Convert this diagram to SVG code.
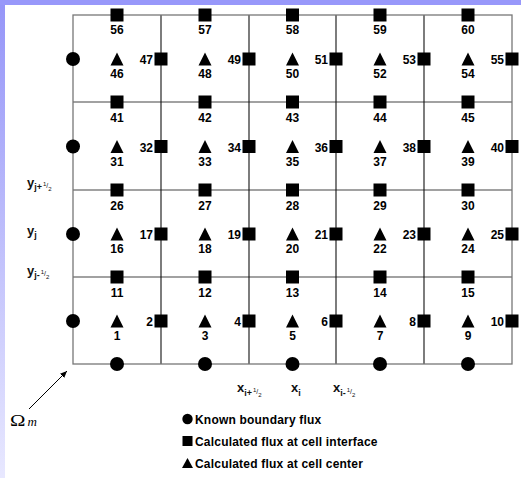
<svg xmlns="http://www.w3.org/2000/svg" xmlns:xlink="http://www.w3.org/1999/xlink" width="521" height="478" viewBox="0 0 521 478">
<style>
.lbl{font-family:"Liberation Sans",Arial,sans-serif;font-weight:bold;font-size:12px;fill:#000}
.mid{text-anchor:middle}
.end{text-anchor:end}
.ax{font-family:"Liberation Sans",Arial,sans-serif;font-weight:bold;font-size:13px;fill:#111}
.leg{font-family:"Liberation Sans",Arial,sans-serif;font-weight:bold;font-size:12px;fill:#000;letter-spacing:0.2px}
.hl{stroke:#444;stroke-width:1.1}
.vl{stroke:#111;stroke-width:1.1}
.bd{stroke:#777;stroke-width:1.3;fill:none}
</style>
<defs>
<linearGradient id="lg" x1="0" y1="0" x2="0" y2="1">
<stop offset="0" stop-color="#9595f8"/>
<stop offset="1" stop-color="#e8e8ff"/>
</linearGradient>
<rect id="sq" x="-6.5" y="-6.5" width="13" height="13" fill="#000"/>
<polygon id="tri" points="0,-6.5 6.5,6.5 -6.5,6.5" fill="#000"/>
<circle id="ci" r="7" fill="#000"/>
<marker id="ah" markerWidth="8" markerHeight="8" refX="7" refY="4" orient="auto" markerUnits="userSpaceOnUse">
<path d="M0,1 L7,4 L0,7 Z" fill="#000"/>
</marker>
</defs>
<rect width="521" height="478" fill="#fff"/>
<rect x="0" y="0" width="5" height="478" fill="url(#lg)"/>
<rect x="0" y="0" width="521" height="5" fill="#9898fa"/>

<g id="connectors">
<line class="hl" x1="73" y1="102" x2="512" y2="102"/>
<line class="hl" x1="73" y1="190" x2="512" y2="190"/>
<line class="hl" x1="73" y1="277" x2="512" y2="277"/>
<line class="vl" x1="161" y1="15" x2="161" y2="364"/>
<line class="vl" x1="249" y1="15" x2="249" y2="364"/>
<line class="vl" x1="336" y1="15" x2="336" y2="364"/>
<line class="vl" x1="424" y1="15" x2="424" y2="364"/>
<rect class="bd" x="73" y="15" width="439" height="349"/>
<line x1="29" y1="409" x2="67" y2="371" stroke="#000" stroke-width="1" marker-end="url(#ah)"/>
</g>

<g id="bL1"><use xlink:href="#ci" x="73" y="321"/></g>
<g id="bL2"><use xlink:href="#ci" x="73" y="234"/></g>
<g id="bL3"><use xlink:href="#ci" x="73" y="146.5"/></g>
<g id="bL4"><use xlink:href="#ci" x="73" y="59"/></g>
<g id="bB1"><use xlink:href="#ci" x="117" y="364"/></g>
<g id="bB2"><use xlink:href="#ci" x="205" y="364"/></g>
<g id="bB3"><use xlink:href="#ci" x="292.5" y="364"/></g>
<g id="bB4"><use xlink:href="#ci" x="380" y="364"/></g>
<g id="bB5"><use xlink:href="#ci" x="468" y="364"/></g>

<g id="n1"><use xlink:href="#tri" x="117" y="321"/><text class="lbl mid" x="117" y="340">1</text></g>
<g id="n2"><use xlink:href="#sq" x="161" y="321"/><text class="lbl end" x="153" y="326">2</text></g>
<g id="n3"><use xlink:href="#tri" x="205" y="321"/><text class="lbl mid" x="205" y="340">3</text></g>
<g id="n4"><use xlink:href="#sq" x="249" y="321"/><text class="lbl end" x="241" y="326">4</text></g>
<g id="n5"><use xlink:href="#tri" x="292.5" y="321"/><text class="lbl mid" x="292.5" y="340">5</text></g>
<g id="n6"><use xlink:href="#sq" x="336" y="321"/><text class="lbl end" x="328" y="326">6</text></g>
<g id="n7"><use xlink:href="#tri" x="380" y="321"/><text class="lbl mid" x="380" y="340">7</text></g>
<g id="n8"><use xlink:href="#sq" x="424" y="321"/><text class="lbl end" x="416" y="326">8</text></g>
<g id="n9"><use xlink:href="#tri" x="468" y="321"/><text class="lbl mid" x="468" y="340">9</text></g>
<g id="n10"><use xlink:href="#sq" x="512" y="321"/><text class="lbl end" x="504" y="326">10</text></g>
<g id="n11"><use xlink:href="#sq" x="117" y="277"/><text class="lbl mid" x="117" y="296.5">11</text></g>
<g id="n12"><use xlink:href="#sq" x="205" y="277"/><text class="lbl mid" x="205" y="296.5">12</text></g>
<g id="n13"><use xlink:href="#sq" x="292.5" y="277"/><text class="lbl mid" x="292.5" y="296.5">13</text></g>
<g id="n14"><use xlink:href="#sq" x="380" y="277"/><text class="lbl mid" x="380" y="296.5">14</text></g>
<g id="n15"><use xlink:href="#sq" x="468" y="277"/><text class="lbl mid" x="468" y="296.5">15</text></g>

<g id="n16"><use xlink:href="#tri" x="117" y="234"/><text class="lbl mid" x="117" y="253">16</text></g>
<g id="n17"><use xlink:href="#sq" x="161" y="234"/><text class="lbl end" x="153" y="239">17</text></g>
<g id="n18"><use xlink:href="#tri" x="205" y="234"/><text class="lbl mid" x="205" y="253">18</text></g>
<g id="n19"><use xlink:href="#sq" x="249" y="234"/><text class="lbl end" x="241" y="239">19</text></g>
<g id="n20"><use xlink:href="#tri" x="292.5" y="234"/><text class="lbl mid" x="292.5" y="253">20</text></g>
<g id="n21"><use xlink:href="#sq" x="336" y="234"/><text class="lbl end" x="328" y="239">21</text></g>
<g id="n22"><use xlink:href="#tri" x="380" y="234"/><text class="lbl mid" x="380" y="253">22</text></g>
<g id="n23"><use xlink:href="#sq" x="424" y="234"/><text class="lbl end" x="416" y="239">23</text></g>
<g id="n24"><use xlink:href="#tri" x="468" y="234"/><text class="lbl mid" x="468" y="253">24</text></g>
<g id="n25"><use xlink:href="#sq" x="512" y="234"/><text class="lbl end" x="504" y="239">25</text></g>
<g id="n26"><use xlink:href="#sq" x="117" y="190"/><text class="lbl mid" x="117" y="209.5">26</text></g>
<g id="n27"><use xlink:href="#sq" x="205" y="190"/><text class="lbl mid" x="205" y="209.5">27</text></g>
<g id="n28"><use xlink:href="#sq" x="292.5" y="190"/><text class="lbl mid" x="292.5" y="209.5">28</text></g>
<g id="n29"><use xlink:href="#sq" x="380" y="190"/><text class="lbl mid" x="380" y="209.5">29</text></g>
<g id="n30"><use xlink:href="#sq" x="468" y="190"/><text class="lbl mid" x="468" y="209.5">30</text></g>

<g id="n31"><use xlink:href="#tri" x="117" y="146.5"/><text class="lbl mid" x="117" y="165.5">31</text></g>
<g id="n32"><use xlink:href="#sq" x="161" y="146.5"/><text class="lbl end" x="153" y="151.5">32</text></g>
<g id="n33"><use xlink:href="#tri" x="205" y="146.5"/><text class="lbl mid" x="205" y="165.5">33</text></g>
<g id="n34"><use xlink:href="#sq" x="249" y="146.5"/><text class="lbl end" x="241" y="151.5">34</text></g>
<g id="n35"><use xlink:href="#tri" x="292.5" y="146.5"/><text class="lbl mid" x="292.5" y="165.5">35</text></g>
<g id="n36"><use xlink:href="#sq" x="336" y="146.5"/><text class="lbl end" x="328" y="151.5">36</text></g>
<g id="n37"><use xlink:href="#tri" x="380" y="146.5"/><text class="lbl mid" x="380" y="165.5">37</text></g>
<g id="n38"><use xlink:href="#sq" x="424" y="146.5"/><text class="lbl end" x="416" y="151.5">38</text></g>
<g id="n39"><use xlink:href="#tri" x="468" y="146.5"/><text class="lbl mid" x="468" y="165.5">39</text></g>
<g id="n40"><use xlink:href="#sq" x="512" y="146.5"/><text class="lbl end" x="504" y="151.5">40</text></g>
<g id="n41"><use xlink:href="#sq" x="117" y="102"/><text class="lbl mid" x="117" y="121.5">41</text></g>
<g id="n42"><use xlink:href="#sq" x="205" y="102"/><text class="lbl mid" x="205" y="121.5">42</text></g>
<g id="n43"><use xlink:href="#sq" x="292.5" y="102"/><text class="lbl mid" x="292.5" y="121.5">43</text></g>
<g id="n44"><use xlink:href="#sq" x="380" y="102"/><text class="lbl mid" x="380" y="121.5">44</text></g>
<g id="n45"><use xlink:href="#sq" x="468" y="102"/><text class="lbl mid" x="468" y="121.5">45</text></g>

<g id="n46"><use xlink:href="#tri" x="117" y="59"/><text class="lbl mid" x="117" y="78">46</text></g>
<g id="n47"><use xlink:href="#sq" x="161" y="59"/><text class="lbl end" x="153" y="64">47</text></g>
<g id="n48"><use xlink:href="#tri" x="205" y="59"/><text class="lbl mid" x="205" y="78">48</text></g>
<g id="n49"><use xlink:href="#sq" x="249" y="59"/><text class="lbl end" x="241" y="64">49</text></g>
<g id="n50"><use xlink:href="#tri" x="292.5" y="59"/><text class="lbl mid" x="292.5" y="78">50</text></g>
<g id="n51"><use xlink:href="#sq" x="336" y="59"/><text class="lbl end" x="328" y="64">51</text></g>
<g id="n52"><use xlink:href="#tri" x="380" y="59"/><text class="lbl mid" x="380" y="78">52</text></g>
<g id="n53"><use xlink:href="#sq" x="424" y="59"/><text class="lbl end" x="416" y="64">53</text></g>
<g id="n54"><use xlink:href="#tri" x="468" y="59"/><text class="lbl mid" x="468" y="78">54</text></g>
<g id="n55"><use xlink:href="#sq" x="512" y="59"/><text class="lbl end" x="504" y="64">55</text></g>
<g id="n56"><use xlink:href="#sq" x="117" y="15"/><text class="lbl mid" x="117" y="34">56</text></g>
<g id="n57"><use xlink:href="#sq" x="205" y="15"/><text class="lbl mid" x="205" y="34">57</text></g>
<g id="n58"><use xlink:href="#sq" x="292.5" y="15"/><text class="lbl mid" x="292.5" y="34">58</text></g>
<g id="n59"><use xlink:href="#sq" x="380" y="15"/><text class="lbl mid" x="380" y="34">59</text></g>
<g id="n60"><use xlink:href="#sq" x="468" y="15"/><text class="lbl mid" x="468" y="34">60</text></g>

<g id="axes">
<text class="ax" x="27" y="187">y<tspan dy="3" font-size="9">j+</tspan><tspan dx="1" dy="-4" font-size="6" font-weight="normal">1</tspan><tspan dy="2" font-size="7" font-weight="normal">/</tspan><tspan dy="3" font-size="6" font-weight="normal">2</tspan></text>
<text class="ax" x="27" y="235">y<tspan dy="3" font-size="9">j</tspan></text>
<text class="ax" x="27" y="275">y<tspan dy="3" font-size="9">j-</tspan><tspan dx="1" dy="-4" font-size="6" font-weight="normal">1</tspan><tspan dy="2" font-size="7" font-weight="normal">/</tspan><tspan dy="3" font-size="6" font-weight="normal">2</tspan></text>
<text class="ax" x="237" y="392">x<tspan dy="4" font-size="9">i+</tspan><tspan dx="1" dy="-4" font-size="6" font-weight="normal">1</tspan><tspan dy="2" font-size="7" font-weight="normal">/</tspan><tspan dy="3" font-size="6" font-weight="normal">2</tspan></text>
<text class="ax" x="291" y="392">x<tspan dy="4" font-size="9">i</tspan></text>
<text class="ax" x="333" y="392">x<tspan dy="4" font-size="9">i-</tspan><tspan dx="1" dy="-4" font-size="6" font-weight="normal">1</tspan><tspan dy="2" font-size="7" font-weight="normal">/</tspan><tspan dy="3" font-size="6" font-weight="normal">2</tspan></text>
</g>

<g id="omega">
<text transform="translate(10,425.5) scale(1.3,1)" font-family="Liberation Serif,serif" font-size="16">Ω</text>
<text x="27.5" y="426" font-family="Liberation Serif,serif" font-style="italic" font-size="13">m</text>
</g>

<g id="legend">
<circle cx="187.5" cy="419" r="5.2" fill="#000"/>
<text class="leg" x="195" y="424">Known boundary flux</text>
<rect x="182.5" y="436" width="10" height="10" fill="#000"/>
<text class="leg" x="195" y="446">Calculated flux at cell interface</text>
<polygon points="187.5,458 193,468 182,468" fill="#000"/>
<text class="leg" x="195" y="468">Calculated flux at cell center</text>
</g>
</svg>
